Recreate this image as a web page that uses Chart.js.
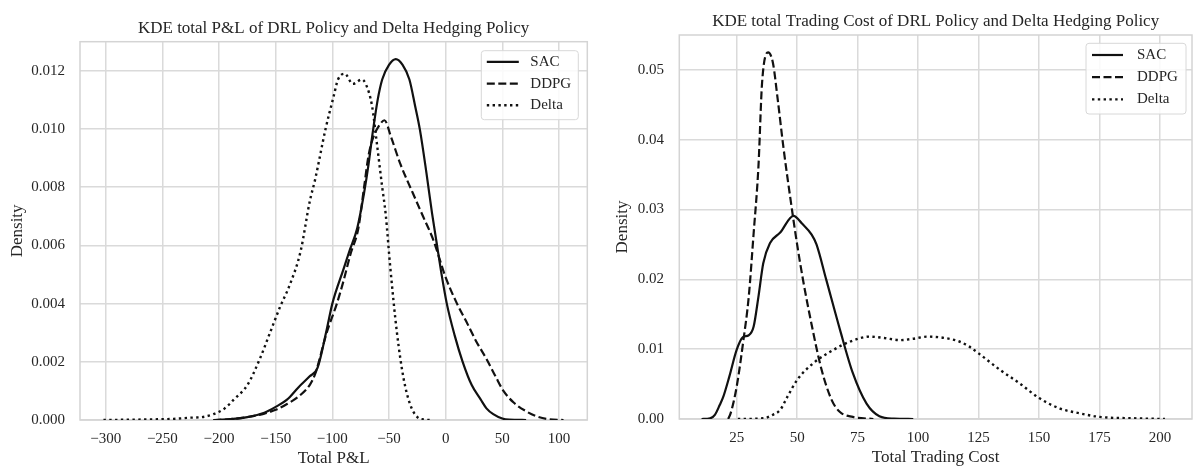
<!DOCTYPE html>
<html>
<head>
<meta charset="utf-8">
<title>KDE P&L and Trading Cost</title>
<script src="https://cdn.jsdelivr.net/npm/chart.js@4.4.1/dist/chart.umd.min.js"></script>
<style>
  html, body { margin: 0; padding: 0; background: #fff; }
  #wrap { position: relative; width: 1194px; height: 470px; }
  canvas { position: absolute; top: 0; }
  #plChart { left: 0; }
  #tcChart { left: 597px; }
</style>
</head>
<body>
<div id="wrap">
  <canvas id="plChart" width="597" height="470"></canvas>
  <canvas id="tcChart" width="597" height="470"></canvas>
</div>
<script>
// series names
const seriesNames = ['SAC', 'DDPG', 'Delta'];

// Total P&L densities
const plSacX = [-205, -190, -175, -160, -150, -140, -130, -120, -113, -105, -100, -90, -85, -78, -72, -68, -65, -60, -56, -50, -44, -38, -32, -27, -22.7, -17, -12, -8, -4, 1, 8, 15, 23, 31, 36, 42, 50, 56, 71];
const plSacY = [0, 0.00003, 0.0001, 0.00025, 0.00045, 0.0007, 0.00112, 0.0015, 0.0018, 0.0031, 0.004, 0.0052, 0.0058, 0.0066, 0.0078, 0.0088, 0.0097, 0.011, 0.0117, 0.0122, 0.0124, 0.0122, 0.0117, 0.0108, 0.00997, 0.0085, 0.0071, 0.0061, 0.0051, 0.004, 0.0029, 0.002, 0.0012, 0.0007, 0.0004, 0.0002, 0.00005, 0.00001, 0];

const plDdpgX = [-205, -190, -175, -160, -150, -140, -130, -120, -115, -105, -96, -90, -84, -77, -72, -68, -64, -59, -54, -48, -40, -29, -20, -11, 0, 10, 18, 27, 36, 44, 51, 60, 71, 80, 90, 104];
const plDdpgY = [0, 0.00003, 0.0001, 0.00022, 0.00035, 0.00055, 0.0008, 0.0012, 0.0016, 0.003, 0.004, 0.0048, 0.0057, 0.0066, 0.008, 0.0091, 0.0097, 0.0101, 0.0103, 0.0097, 0.0088, 0.0078, 0.007, 0.0062, 0.0049, 0.004, 0.0034, 0.0027, 0.0021, 0.0015, 0.001, 0.0006, 0.0003, 0.00013, 0.00003, 0];

const plDeltaX = [-302, -280, -260, -240, -225, -215, -205, -195, -187, -175, -164, -155, -146, -138, -128, -120, -115, -106, -99, -95, -89, -82, -74, -70, -65, -61, -56, -53, -49, -43, -37, -31, -25, -20, -12];
const plDeltaY = [0, 0.00001, 0.00002, 0.00004, 0.00008, 0.0001, 0.0002, 0.0004, 0.0007, 0.0012, 0.0021, 0.003, 0.0039, 0.0046, 0.0058, 0.0075, 0.0083, 0.01, 0.0111, 0.0117, 0.0119, 0.01155, 0.0117, 0.0115, 0.0108, 0.0096, 0.008, 0.0071, 0.0053, 0.003, 0.0014, 0.0005, 0.0001, 0.00002, 0];

// Total Trading Cost densities
const tcSacX = [10.5, 14, 16, 18, 19.5, 22, 25, 27.5, 30, 32, 34, 36, 38.8, 43, 48.5, 52, 56, 58, 62, 67.7, 73, 78.7, 84, 90, 98];
const tcSacY = [0, 0.0001, 0.0006, 0.002, 0.0032, 0.0061, 0.0099, 0.0117, 0.012, 0.0132, 0.0175, 0.0223, 0.0252, 0.0267, 0.0291, 0.028, 0.0264, 0.025, 0.02, 0.0128, 0.0066, 0.0022, 0.0004, 0.00005, 0];

const tcDdpgX = [21.5, 22.5, 25, 27.8, 30, 32, 34, 35.5, 38, 40, 42, 44.3, 47.7, 50, 52.5, 56, 60, 64.3, 67.7, 73, 81.5];
const tcDdpgY = [0, 0.0008, 0.0046, 0.0113, 0.0175, 0.0265, 0.0361, 0.0481, 0.0525, 0.051, 0.0457, 0.039, 0.0304, 0.025, 0.0198, 0.0135, 0.0072, 0.0027, 0.001, 0.0003, 0];

const tcDeltaX = [25.5, 36, 40, 43, 46, 50, 56.7, 65, 72, 80, 86, 92.5, 98, 104, 111, 117, 121, 125, 134, 142, 150, 158.6, 167, 175, 189, 202];
const tcDeltaY = [0, 0.0001, 0.0006, 0.0013, 0.0032, 0.0056, 0.008, 0.0099, 0.0111, 0.0118, 0.0116, 0.0113, 0.0115, 0.0118, 0.0116, 0.0111, 0.0104, 0.0094, 0.007, 0.0051, 0.003, 0.0015, 0.0008, 0.0003, 0.0001, 0];

// tick labels
const plXTicks = [-300, -250, -200, -150, -100, -50, 0, 50, 100];
const plYTicks = [0, 0.002, 0.004, 0.006, 0.008, 0.010, 0.012];
const tcXTicks = [25, 50, 75, 100, 125, 150, 175, 200];
const tcYTicks = [0, 0.01, 0.02, 0.03, 0.04, 0.05];

const SERIF = "'Liberation Serif', 'DejaVu Serif', serif";
const TEXT = '#262626';
const GRID = '#dadada';
Chart.defaults.font.family = SERIF;
Chart.defaults.color = TEXT;

function pts(xs, ys) {
    return xs.map((x, i) => ({ x: x, y: ys[i] }));
}

// line styles for SAC / DDPG / Delta
const dashes = [[], [8, 3.5], [2.4, 3.4]];
const widths = [2.2, 2.2, 2.4];

function makeDatasets(sets) {
    return sets.map((s, i) => ({
        label: seriesNames[i],
        data: pts(s[0], s[1]),
        borderColor: '#111',
        borderWidth: widths[i],
        borderDash: dashes[i],
        borderCapStyle: 'butt',
        pointRadius: 0,
        fill: false,
        cubicInterpolationMode: 'monotone'
    }));
}

// light grey frame round the plot area
const frame = {
    id: 'frame',
    beforeDatasetsDraw(chart) {
        const a = chart.chartArea, ctx = chart.ctx;
        ctx.save();
        ctx.strokeStyle = '#d4d4d4';
        ctx.lineWidth = 1.5;
        ctx.strokeRect(a.left, a.top, a.right - a.left, a.bottom - a.top);
        ctx.restore();
    }
};

// title centred over the plot area (matplotlib style), not over the canvas
const axTitle = {
    id: 'axTitle',
    afterDraw(chart, args, opts) {
        const a = chart.chartArea, ctx = chart.ctx;
        ctx.save();
        ctx.font = '17px ' + SERIF;
        ctx.fillStyle = TEXT;
        ctx.textAlign = 'center';
        ctx.textBaseline = 'middle';
        ctx.fillText(opts.text, (a.left + a.right) / 2, opts.y);
        ctx.restore();
    }
};

// matplotlib style legend in a box, top right
const boxLegend = {
    id: 'boxLegend',
    afterDraw(chart, args, opts) {
        const a = chart.chartArea, ctx = chart.ctx;
        const x = a.right - opts.right - opts.width;
        const y = a.top + opts.top;
        ctx.save();
        ctx.fillStyle = 'rgba(255,255,255,0.85)';
        ctx.strokeStyle = '#d8d8d8';
        ctx.lineWidth = 1;
        ctx.beginPath();
        ctx.roundRect(x, y, opts.width, opts.height, 3);
        ctx.fill();
        ctx.stroke();
        ctx.font = '15px ' + SERIF;
        ctx.textBaseline = 'middle';
        chart.data.datasets.forEach((ds, i) => {
            const ry = y + opts.first + i * opts.step;
            ctx.strokeStyle = ds.borderColor;
            ctx.lineWidth = ds.borderWidth;
            ctx.setLineDash(ds.borderDash);
            ctx.beginPath();
            ctx.moveTo(x + opts.inset, ry);
            ctx.lineTo(x + opts.inset + opts.len, ry);
            ctx.stroke();
            ctx.setLineDash([]);
            ctx.fillStyle = TEXT;
            ctx.fillText(ds.label, x + opts.textX, ry);
        });
        ctx.restore();
    }
};

function makeChart(id, cfg) {
    return new Chart(document.getElementById(id), {
        type: 'line',
        data: { datasets: makeDatasets(cfg.sets) },
        options: {
            responsive: false,
            animation: false,
            layout: { padding: cfg.padding },
            plugins: {
                legend: { display: false },
                tooltip: { enabled: false },
                title: { display: false },
                axTitle: { text: cfg.title, y: cfg.titleY },
                boxLegend: cfg.legend
            },
            scales: {
                x: {
                    type: 'linear',
                    min: cfg.xMin,
                    max: cfg.xMax,
                    afterBuildTicks: s => { s.ticks = cfg.xTicks.map(v => ({ value: v })); },
                    afterFit: s => { s.height = cfg.xHeight; },
                    grid: { color: GRID, lineWidth: 1.5, drawTicks: false },
                    border: { display: false },
                    ticks: {
                        padding: cfg.xTickPad,
                        maxRotation: 0,
                        font: { size: 15 },
                        callback: v => String(v).replace('-', '\u2212')
                    },
                    title: {
                        display: true,
                        text: cfg.xTitle,
                        font: { size: 17 },
                        padding: { top: 0, bottom: cfg.xTitlePad }
                    }
                },
                y: {
                    type: 'linear',
                    min: 0,
                    max: cfg.yMax,
                    afterBuildTicks: s => { s.ticks = cfg.yTicks.map(v => ({ value: v })); },
                    afterFit: s => { s.width = cfg.yWidth; },
                    grid: { color: GRID, lineWidth: 1.5, drawTicks: false },
                    border: { display: false },
                    ticks: {
                        padding: cfg.yTickPad,
                        font: { size: 15 },
                        callback: v => v.toFixed(cfg.yDec)
                    },
                    title: {
                        display: true,
                        text: 'Density',
                        font: { size: 17 },
                        padding: { top: cfg.yTitlePad, bottom: 0 }
                    }
                }
            }
        },
        plugins: [frame, axTitle, boxLegend]
    });
}

makeChart('plChart', {
    sets: [[plSacX, plSacY], [plDdpgX, plDdpgY], [plDeltaX, plDeltaY]],
    title: 'KDE total P&L of DRL Policy and Delta Hedging Policy',
    titleY: 28.5,
    padding: { left: 0, right: 9.7, top: 41.7, bottom: 0 },
    xMin: -322.7, xMax: 125, xTicks: plXTicks, xTitle: 'Total P&L',
    xHeight: 50, xTickPad: 10, xTitlePad: 1.5,
    yMax: 0.013, yTicks: plYTicks, yDec: 3,
    yWidth: 80, yTickPad: 15, yTitlePad: 7,
    legend: { right: 9, top: 9, width: 97, height: 69, inset: 5.5, len: 32, textX: 49, first: 11.2, step: 21.7 }
});

makeChart('tcChart', {
    sets: [[tcSacX, tcSacY], [tcDdpgX, tcDdpgY], [tcDeltaX, tcDeltaY]],
    title: 'KDE total Trading Cost of DRL Policy and Delta Hedging Policy',
    titleY: 21.8,
    padding: { left: 0, right: 2, top: 35, bottom: 0 },
    xMin: 1.3, xMax: 213.2, xTicks: tcXTicks, xTitle: 'Total Trading Cost',
    xHeight: 51, xTickPad: 10.3, xTitlePad: 1.8,
    yMax: 0.055, yTicks: tcYTicks, yDec: 2,
    yWidth: 82.3, yTickPad: 15.3, yTitlePad: 15.5,
    legend: { right: 6, top: 8.3, width: 100, height: 70.7, inset: 6, len: 31, textX: 51, first: 11.7, step: 22.2 }
});
</script>
</body>
</html>
